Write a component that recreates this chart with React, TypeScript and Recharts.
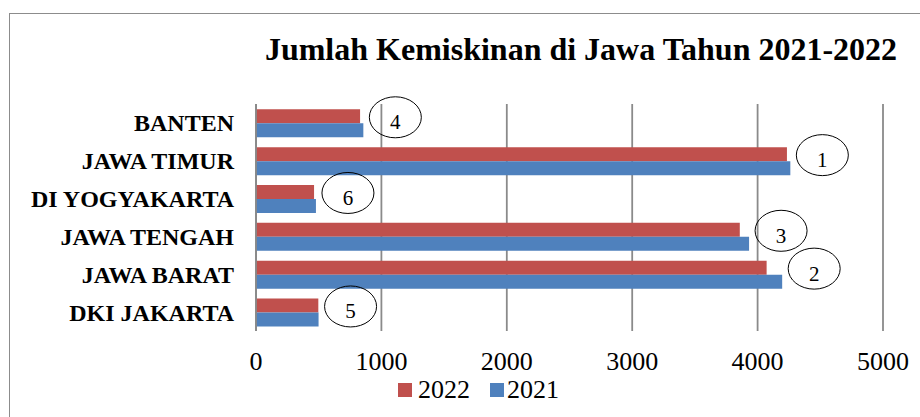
import React from "react";
import { BarChart, Bar, XAxis, YAxis, CartesianGrid, LabelList } from "recharts";

const provinces = ["BANTEN", "JAWA TIMUR", "DI YOGYAKARTA", "JAWA TENGAH", "JAWA BARAT", "DKI JAKARTA"];
const values2022 = [830, 4234, 463, 3858, 4072, 497];
const values2021 = [856, 4261, 478, 3932, 4196, 499];
const ranks = [4, 1, 6, 3, 2, 5];
const xTicks = [0, 1000, 2000, 3000, 4000, 5000];
const titleText = "Jumlah Kemiskinan di Jawa Tahun 2021-2022";
const seriesNames = ["2022", "2021"];

const RED = "#C0504D";
const BLUE = "#4F81BD";
const FONT = "'Liberation Serif', 'Times New Roman', serif";

const data = provinces.map((name, i) => ({
  name,
  v2022: values2022[i],
  v2021: values2021[i],
  rank: ranks[i],
}));

const RankBadge = (props: any) => {
  const { x, y, width, value } = props;
  const cx = Number(x) + Number(width) + 32;
  const cy = Number(y) - 6;
  return (
    <g>
      <ellipse cx={cx} cy={cy} rx={26} ry={20.5} fill="none" stroke="#000" strokeWidth={1} />
      <text x={cx} y={cy + 12} textAnchor="middle" fontFamily={FONT} fontSize={21} fill="#000">
        {value}
      </text>
    </g>
  );
};

export default function App() {
  return (
    <div style={{ position: "absolute", left: 0, top: 0, width: 920, height: 417, overflow: "hidden", background: "#fff" }}>
      <div
        style={{
          position: "absolute",
          left: 9,
          top: 13,
          width: 1000,
          height: 600,
          border: "1.5px solid #8c8c8c",
          boxSizing: "border-box",
        }}
      />
      <div
        style={{
          position: "absolute",
          left: 0,
          width: 1162,
          top: 29,
          textAlign: "center",
          fontFamily: FONT,
          fontWeight: "bold",
          fontSize: 32,
          lineHeight: "40px",
          color: "#000",
          whiteSpace: "nowrap",
        }}
      >
        {titleText}
      </div>
      <div style={{ position: "absolute", left: 0, top: 0 }}>
        <BarChart
          width={920}
          height={417}
          data={data}
          layout="vertical"
          margin={{ top: 104, right: 37, bottom: 56, left: 0 }}
          barCategoryGap="14%"
          barGap={0}
        >
          <CartesianGrid horizontal={false} vertical={true} stroke="#8a8a8a" strokeWidth={1.8} />
          <XAxis
            type="number"
            domain={[0, 5000]}
            ticks={xTicks}
            axisLine={false}
            tickLine={false}
            tickSize={0}
            tickMargin={21}
            tick={{ fontSize: 26, fill: "#000", fontFamily: FONT }}
          />
          <YAxis
            type="category"
            dataKey="name"
            width={256}
            axisLine={{ stroke: "#8a8a8a", strokeWidth: 1.8 }}
            tickLine={false}
            tickSize={0}
            tickMargin={22}
            tick={{ fontSize: 24, fill: "#000", fontFamily: FONT, fontWeight: "bold" }}
          />
          <Bar dataKey="v2022" name={seriesNames[0]} fill={RED} isAnimationActive={false} />
          <Bar dataKey="v2021" name={seriesNames[1]} fill={BLUE} isAnimationActive={false}>
            <LabelList dataKey="rank" content={RankBadge} />
          </Bar>
        </BarChart>
      </div>
      <div
        style={{
          position: "absolute",
          left: 398,
          top: 375,
          display: "flex",
          alignItems: "center",
          fontFamily: FONT,
          fontSize: 26,
          color: "#000",
          lineHeight: "30px",
        }}
      >
        <span style={{ display: "inline-block", width: 14, height: 14, background: RED, marginRight: 6 }} />
        <span style={{ marginRight: 20 }}>{seriesNames[0]}</span>
        <span style={{ display: "inline-block", width: 14, height: 14, background: BLUE, marginRight: 3 }} />
        <span>{seriesNames[1]}</span>
      </div>
    </div>
  );
}
